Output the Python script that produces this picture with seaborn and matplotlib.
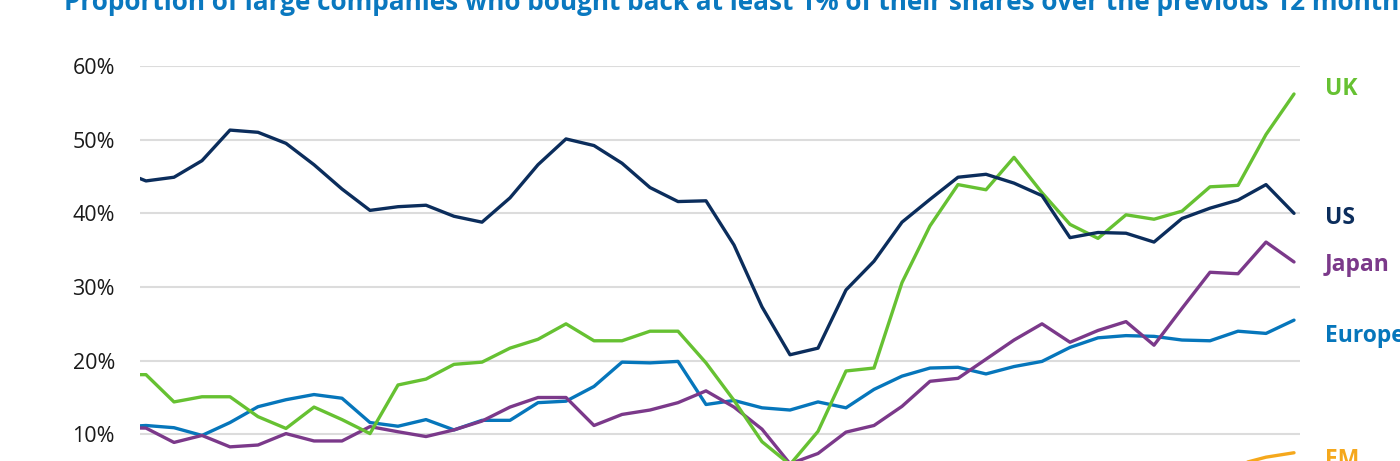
import numpy as np
import pandas as pd
import seaborn as sns
import matplotlib.pyplot as plt

# quarterly observations (first one sits just left of the visible axis)
quarter = list(range(43))

us = [45.9, 44.4, 44.9, 47.15, 51.3, 51.0, 49.5, 46.6, 43.3, 40.4,
      40.9, 41.1, 39.6, 38.8, 42.1, 46.6, 50.1, 49.2, 46.8, 43.5,
      41.6, 41.7, 35.7, 27.3, 20.8, 21.7, 29.6, 33.5, 38.8, 41.9,
      44.9, 45.3, 44.1, 42.4, 36.7, 37.4, 37.3, 36.1, 39.3, 40.7,
      41.8, 43.9, 40.0]
uk = [18.1, 18.1, 14.4, 15.1, 15.1, 12.4, 10.8, 13.7, 12.0, 10.1,
      16.7, 17.5, 19.5, 19.8, 21.7, 22.9, 25.0, 22.7, 22.7, 24.0,
      24.0, 19.7, 14.6, 9.0, 5.9, 10.4, 18.6, 19.0, 30.6, 38.3,
      43.9, 43.2, 47.6, 42.8, 38.5, 36.6, 39.8, 39.2, 40.3, 43.6,
      43.8, 50.7, 56.2]
japan = [10.9, 10.85, 8.9, 9.85, 8.3, 8.55, 10.1, 9.1, 9.1, 11.05,
         10.35, 9.7, 10.6, 11.8, 13.7, 15.0, 15.0, 11.2, 12.7, 13.3,
         14.3, 15.9, 13.7, 10.7, 6.0, 7.4, 10.3, 11.2, 13.8, 17.2,
         17.6, 20.2, 22.8, 25.0, 22.5, 24.1, 25.3, 22.1, 27.1, 32.0,
         31.8, 36.1, 33.4]
europe = [11.0, 11.2, 10.9, 9.85, 11.6, 13.75, 14.7, 15.4, 14.9, 11.6,
          11.1, 12.0, 10.6, 11.9, 11.9, 14.3, 14.5, 16.5, 19.8, 19.7,
          19.9, 14.05, 14.6, 13.6, 13.3, 14.4, 13.6, 16.1, 17.9, 19.0,
          19.1, 18.2, 19.2, 19.9, 21.8, 23.1, 23.4, 23.3, 22.8, 22.7,
          24.0, 23.7, 25.5]
em = [3.2, 3.0, 2.8, 3.1, 3.4, 3.6, 3.3, 3.0, 2.9, 2.7,
      2.9, 3.1, 3.3, 3.5, 3.8, 4.0, 4.2, 4.1, 3.9, 4.0,
      4.1, 3.8, 3.2, 2.6, 2.2, 2.5, 3.0, 3.4, 3.9, 4.3,
      4.6, 4.8, 5.0, 4.9, 4.6, 4.5, 4.7, 4.8, 5.0, 5.3,
      5.9, 6.9, 7.5]

regions = ["US", "UK", "Japan", "Europe", "EM"]
colors = {"US": "#0b2d5c", "UK": "#66c132", "Japan": "#7b398a",
          "Europe": "#0676bb", "EM": "#f5a81c"}
# label anchors at the right edge (data units)
label_y = {"UK": 56.0, "US": 38.5, "Japan": 32.2, "Europe": 22.5, "EM": 5.7}
ytick_vals = [10, 20, 30, 40, 50, 60]

df = pd.DataFrame({"quarter": quarter * 5,
                   "value": us + uk + japan + europe + em,
                   "region": np.repeat(regions, len(quarter))})

sns.set_theme(style="white")
plt.rcParams['font.family'] = ['Open Sans', 'DejaVu Sans']

fig = plt.figure(figsize=(14, 4.61), dpi=100)
ax = fig.add_axes([0.1, 1 - 508 / 461, 1160 / 1400, 442 / 461])

sns.lineplot(data=df, x="quarter", y="value", hue="region", hue_order=regions[::-1],
             palette=colors, linewidth=2.4, legend=False, ax=ax)

ax.set_xlim(0.786, 42.214)
ax.set_ylim(0, 60)
ax.set_yticks(ytick_vals)
ax.set_yticklabels([f"{t}%" for t in ytick_vals], fontsize=15.5, color="#1a1a1a")
ax.set_xticks([])
ax.tick_params(axis="y", length=0, pad=18)
ax.yaxis.grid(True, color="#dcdcdc", linewidth=1.5)
ax.axhline(0, color="#dcdcdc", linewidth=1.5, zorder=0)
ax.set_axisbelow(True)
for s in ax.spines.values():
    s.set_visible(False)
ax.set_xlabel("")
ax.set_ylabel("")

for r in regions:
    ax.text(43.1, label_y[r], r, color=colors[r], fontsize=16.5, fontweight="bold",
            va="baseline", ha="left", clip_on=False)

fig.text(64 / 1400, 1 - 10.5 / 461,
         "Proportion of large companies who bought back at least 1% of their shares over the previous 12 months",
         color="#0a78bf", fontsize=18.8, fontweight="bold", ha="left", va="baseline")

fig.savefig("out.png", dpi=100)
